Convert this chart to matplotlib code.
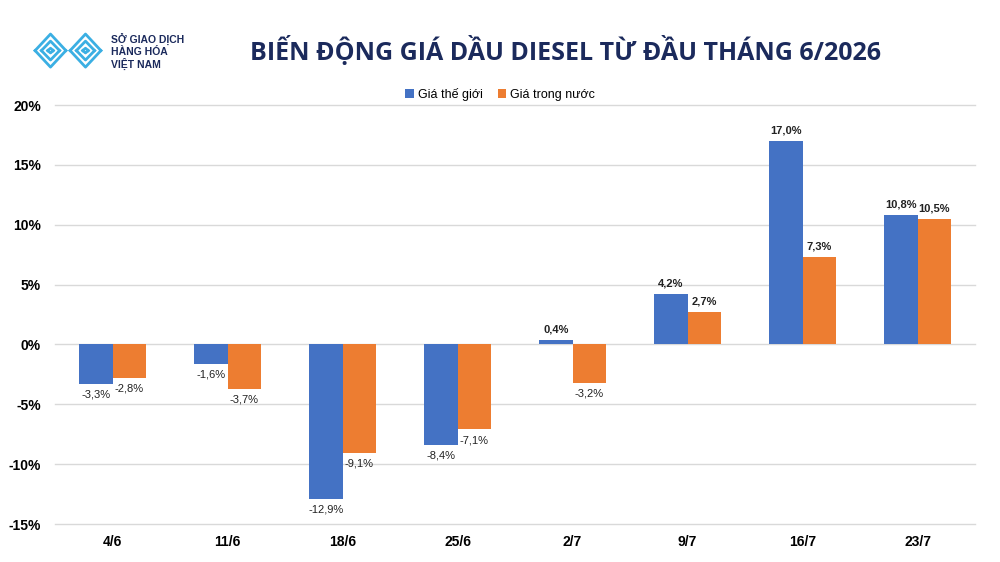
import matplotlib
matplotlib.use('Agg')
import matplotlib.pyplot as plt
import numpy as np

# data
weeks = ['4/6', '11/6', '18/6', '25/6', '2/7', '9/7', '16/7', '23/7']
world = [-3.3, -1.6, -12.9, -8.4, 0.4, 4.2, 17.0, 10.8]
domestic = [-2.8, -3.7, -9.1, -7.1, -3.2, 2.7, 7.3, 10.5]
yticks = [-15, -10, -5, 0, 5, 10, 15, 20]

blue = '#4472C4'
orange = '#ED7D31'
navy = '#1B2A5C'

plt.rcParams['font.family'] = ['Liberation Sans', 'DejaVu Sans']

fig = plt.figure(figsize=(10, 5.62), dpi=100)
ax = fig.add_axes([0.055, 0.0676, 0.92, 0.7454])

x = np.arange(len(weeks))
w = 0.29
b1 = ax.bar(x - w / 2, world, w, color=blue, label='Giá thế giới', zorder=3)
b2 = ax.bar(x + w / 2, domestic, w, color=orange, label='Giá trong nước', zorder=3)

def fmt(v):
    return ('%.1f%%' % v).replace('.', ',')

for bars, vals in ((b1, world), (b2, domestic)):
    for bar, v in zip(bars, vals):
        cx = bar.get_x() + bar.get_width() / 2
        if v >= 0:
            ax.annotate(fmt(v), (cx, v), xytext=(0, 4), textcoords='offset points',
                        ha='center', va='bottom', fontsize=8, fontweight='bold',
                        color='#222222')
        else:
            ax.annotate(fmt(v), (cx, v), xytext=(0, -4), textcoords='offset points',
                        ha='center', va='top', fontsize=8, color='#222222')

ax.set_xlim(-0.5, len(weeks) - 0.5)
ax.set_ylim(-15, 20)
ax.set_yticks(yticks)
ax.set_yticklabels(['%d%%' % t for t in yticks], fontsize=10, fontweight='bold')
ax.set_xticks(x)
ax.set_xticklabels(weeks, fontsize=10, fontweight='bold')
ax.tick_params(length=0, pad=8)
ax.tick_params(axis='y', pad=10)
ax.yaxis.grid(True, color='#d9d9d9', linewidth=1, zorder=0)
for gl in ax.yaxis.get_gridlines():
    gl.set_clip_on(False)
ax.set_axisbelow(True)
for s in ax.spines.values():
    s.set_visible(False)

leg = fig.legend(handles=[b1, b2], loc='center', bbox_to_anchor=(0.5, 0.832), ncol=2,
                 frameon=False, fontsize=9, handlelength=0.7, handleheight=0.7,
                 handletextpad=0.3, columnspacing=1.2)

fig.text(0.565, 0.91, 'BIẾN ĐỘNG GIÁ DẦU DIESEL TỪ ĐẦU THÁNG 6/2026', ha='center',
         va='center', fontsize=18, fontweight='bold', color=navy,
         family=['Open Sans', 'DejaVu Sans'])

# simple logo mark: nested chevrons
lax = fig.add_axes([0.033, 0.875, 0.07, 0.07])
lax.set_xlim(0, 10)
lax.set_ylim(0, 5)
lax.axis('off')
lc = '#3BAFE3'
for k in range(3):
    d = k * 0.9
    lax.plot([0.3 + d, 2.5, 4.7 - d], [2.5, 4.6 - d, 2.5], color=lc, lw=2)
    lax.plot([0.3 + d, 2.5, 4.7 - d], [2.5, 0.4 + d, 2.5], color=lc, lw=2)
    lax.plot([5.3 + d, 7.5, 9.7 - d], [2.5, 4.6 - d, 2.5], color=lc, lw=2)
    lax.plot([5.3 + d, 7.5, 9.7 - d], [2.5, 0.4 + d, 2.5], color=lc, lw=2)
for i, line in enumerate(['SỞ GIAO DỊCH', 'HÀNG HÓA', 'VIỆT NAM']):
    fig.text(0.111, 0.929 - i * 0.0215, line, ha='left', va='center', fontsize=7.5,
             fontweight='bold', color=navy)

fig.savefig('out.png', dpi=100)
